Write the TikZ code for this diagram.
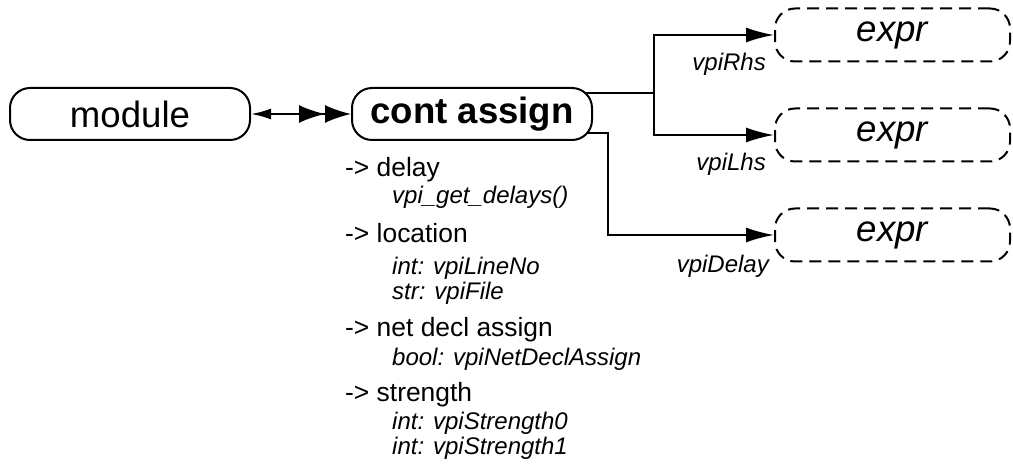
\documentclass[tikz,border=0pt]{standalone}
\usepackage{fontspec}
\setmainfont{Liberation Sans}
\usetikzlibrary{arrows.meta,positioning,backgrounds}

\begin{document}
\begin{tikzpicture}[x=1pt,y=-1pt,
  objbox/.style={draw, line width=2pt, rounded corners=20pt, fill=white,
    minimum width=240pt, minimum height=52pt, inner sep=0pt,
    font=\fontsize{36.6}{40}\selectfont},
  refbox/.style={objbox, dash pattern=on 12pt off 7pt, minimum width=235pt,
    minimum height=53pt, font=\fontsize{36.6}{40}\selectfont\itshape},
  link/.style={line width=2pt, -{Latex[length=28pt,width=15pt]}},
  relname/.style={anchor=base east, inner sep=0pt, font=\fontsize{24}{26}\selectfont\itshape},
  prophead/.style={anchor=base west, inner sep=0pt, font=\fontsize{26.4}{28}\selectfont},
  propval/.style={anchor=base west, inner sep=0pt, font=\fontsize{24}{26}\selectfont\itshape},
]
\useasboundingbox (0,0) rectangle (1013,470);

\node[objbox] (module) at (130,114) {module};
\node[objbox, font=\fontsize{36.6}{40}\selectfont\bfseries] (cont) at (472,114) {cont assign};
\node[refbox] (rhs) at (892.5,35) {expr};
\node[refbox] (lhs) at (892.5,135) {expr};
\node[refbox] (dly) at (892.5,235) {expr};

\draw[line width=2pt, {Latex[length=20pt,width=11pt]}-{Latex[length=26pt,width=18pt]Latex[length=26pt,width=18pt]}]
  (module) -- (cont);

% relations leave from inside the box
\begin{scope}[on background layer]
  \draw[link] ([xshift=-10pt,yshift=21pt]cont.east) -- ++(71,0) |- (rhs);
  \draw[link] ([xshift=-10pt,yshift=21pt]cont.east) -- ++(71,0) |- (lhs);
  \draw[link] ([xshift=-10pt,yshift=-19pt]cont.east) -- ++(25,0) |- (dly);
\end{scope}
\node[relname] (rhsname) at ([xshift=-8pt,yshift=-36pt]rhs.west) {vpiRhs};
\node[relname] (lhsname) at ([xshift=-8pt,yshift=-36pt]lhs.west) {vpiLhs};
\node[relname] (dlyname) at ([xshift=-5pt,yshift=-38pt]dly.west) {vpiDelay};

% properties
\foreach \n/\y/\t in {delay/177/{-> delay}, loc/243/{-> location},
    net/337/{-> net decl assign}, str/402/{-> strength}}
  \node[prophead] (h-\n) at (345,\y) {\t};
\foreach \n/\y/\t in {d1/204/{vpi\_get\_delays()}, l1/275/{int: vpiLineNo},
    l2/300/{str: vpiFile}, n1/366/{bool: vpiNetDeclAssign},
    s0/430/{int: vpiStrength0}, s1/454/{int: vpiStrength1}}
  \node[propval] (v-\n) at (392,\y) {\t};
\end{tikzpicture}
\end{document}
